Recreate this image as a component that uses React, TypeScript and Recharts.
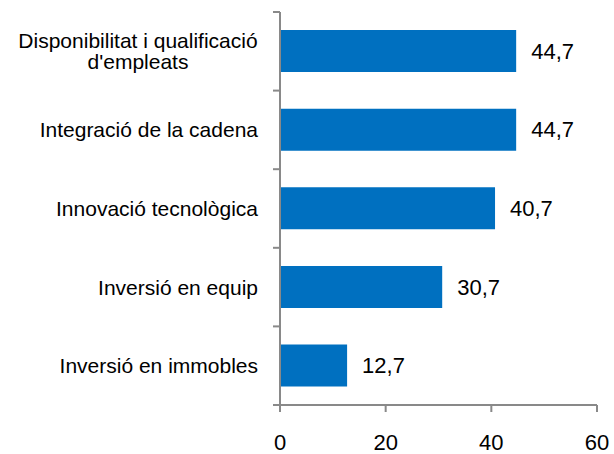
import React from 'react';
import { BarChart, Bar, XAxis, YAxis, LabelList } from 'recharts';

const categories = [
  'Disponibilitat i qualificació\nd\'empleats',
  'Integració de la cadena',
  'Innovació tecnològica',
  'Inversió en equip',
  'Inversió en immobles',
];
const values = [44.7, 44.7, 40.7, 30.7, 12.7];
const xTicks = [0, 20, 40, 60];

const data = categories.map((c, i) => ({ name: c, value: values[i] }));

const AXIS_COLOR = '#898989';
const FONT = 'Arial, "Liberation Sans", sans-serif';

const CategoryTick = (props: any) => {
  const { x, y, payload, index, visibleTicksCount } = props;
  const half = payload && typeof payload.offset === 'number' && payload.offset > 0 ? payload.offset : 39.3;
  const lines = String(payload.value).split('\n');
  const axisX = x + 8;
  const textX = x - 14;
  const lineH = 21;
  const isLast = index === (visibleTicksCount ?? categories.length) - 1;
  return (
    <g>
      <line x1={axisX - 7} x2={axisX} y1={y - half} y2={y - half} stroke={AXIS_COLOR} strokeWidth={2} />
      {isLast && (
        <line x1={axisX - 7} x2={axisX} y1={y + half} y2={y + half} stroke={AXIS_COLOR} strokeWidth={2} />
      )}
      {lines.length === 1 ? (
        <text x={textX} y={y} dy="0.36em" textAnchor="end" fontSize={21} fill="#000" fontFamily={FONT}>
          {lines[0]}
        </text>
      ) : (
        lines.map((l, i) => (
          <text
            key={i}
            x={textX - 120}
            y={y + (i - (lines.length - 1) / 2) * lineH}
            dy="0.36em"
            textAnchor="middle"
            fontSize={21}
            fill="#000"
            fontFamily={FONT}
          >
            {l}
          </text>
        ))
      )}
    </g>
  );
};

export default function App() {
  return (
    <div style={{ position: 'absolute', left: 0, top: 0 }}>
      <BarChart
        width={614}
        height={454}
        data={data}
        layout="vertical"
        margin={{ top: 12, right: 17, bottom: 8, left: 0 }}
        barCategoryGap="23%"
      >
        <XAxis
          type="number"
          domain={[0, 60]}
          ticks={xTicks}
          height={41}
          axisLine={{ stroke: AXIS_COLOR, strokeWidth: 2 }}
          tickLine={{ stroke: AXIS_COLOR, strokeWidth: 2 }}
          tickSize={7}
          tickMargin={22}
          tick={{ fontSize: 22, fill: '#000', fontFamily: FONT }}
        />
        <YAxis
          type="category"
          dataKey="name"
          width={280}
          axisLine={{ stroke: AXIS_COLOR, strokeWidth: 2 }}
          tickLine={false}
          tick={<CategoryTick />}
          interval={0}
        />
        <Bar dataKey="value" fill="#0070C0" isAnimationActive={false}>
          <LabelList
            dataKey="value"
            position="right"
            offset={15}
            formatter={(v: any) => String(v).replace('.', ',')}
            style={{ fontSize: 22, fill: '#000', fontFamily: FONT }}
          />
        </Bar>
      </BarChart>
    </div>
  );
}
